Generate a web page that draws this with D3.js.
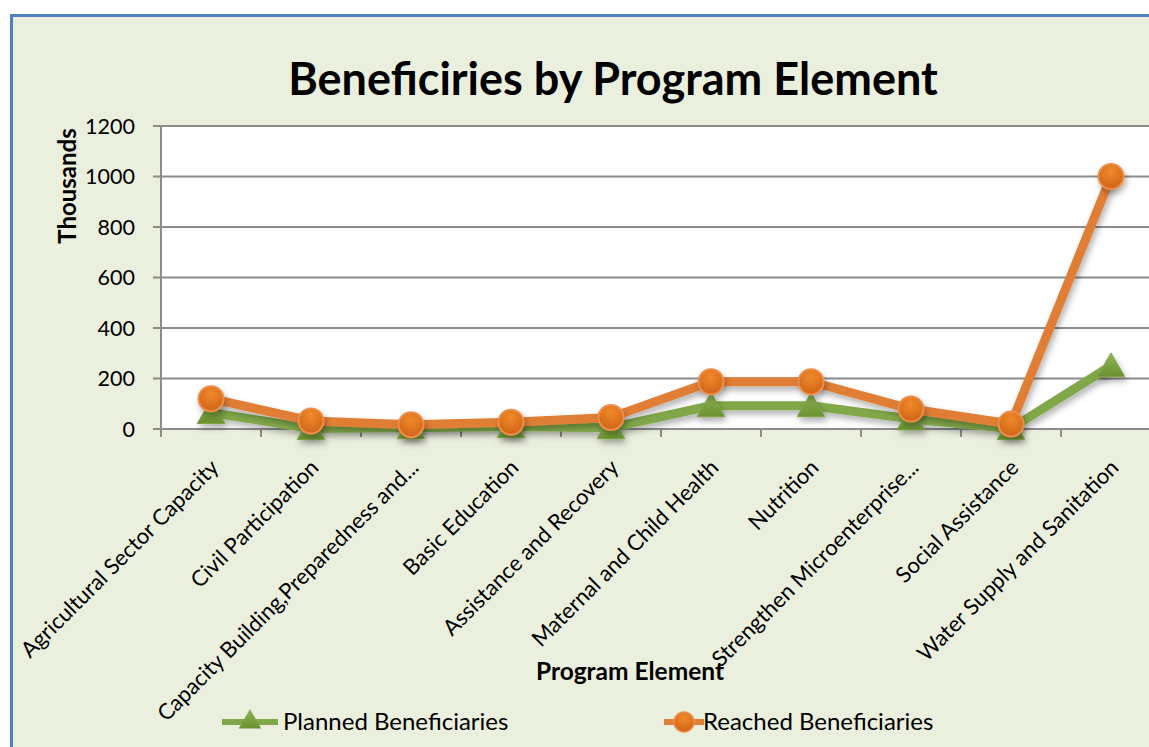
<!DOCTYPE html>
<html>
<head>
  <meta charset="utf-8">
  <title>Beneficiries by Program Element</title>
  <style>
  body { margin: 0; background: #ffffff; }
  svg { display: block; font-family: Lato, "Open Sans", sans-serif; }
  </style>
</head>
<body>
  <svg width="1149" height="747"></svg>
  <script src="https://d3js.org/d3.v7.min.js"></script>
  <script>
  // data (thousands)
  var categories = [
    "Agricultural Sector Capacity",
    "Civil Participation",
    "Capacity Building,Preparedness and...",
    "Basic Education",
    "Assistance and Recovery",
    "Maternal and Child Health",
    "Nutrition",
    "Strengthen Microenterprise...",
    "Social Assistance",
    "Water Supply and Sanitation"
  ];
  var planned = [65, 2, 5, 10, 5, 92, 92, 40, 2, 250];
  var reached = [120, 32, 17, 27, 46, 187, 187, 79, 20, 1000];
  var yTicks = [0, 200, 400, 600, 800, 1000, 1200];
  var seriesNames = ["Planned Beneficiaries", "Reached Beneficiaries"];

  var svg = d3.select("svg");
  var pLeft = 161, pRight = 1161, pTop = 126, pBottom = 429;

  var x = d3.scaleBand().domain(categories).range([pLeft, pRight]).padding(0);
  var y = d3.scaleLinear().domain([0, 1200]).range([pBottom, pTop]);
  var cx = function(d, i) { return x(categories[i]) + x.bandwidth() / 2; };

  // defs: gradients + shadow
  var defs = svg.append("defs");
  var og = defs.append("radialGradient").attr("id", "orangeGrad")
    .attr("cx", "50%").attr("cy", "30%").attr("r", "70%");
  og.append("stop").attr("offset", "0%").attr("stop-color", "#f08a2a");
  og.append("stop").attr("offset", "100%").attr("stop-color", "#cf6418");
  var gg = defs.append("linearGradient").attr("id", "greenGrad")
    .attr("x1", 0).attr("y1", 0).attr("x2", 0).attr("y2", 1);
  gg.append("stop").attr("offset", "0%").attr("stop-color", "#8fb452");
  gg.append("stop").attr("offset", "100%").attr("stop-color", "#6a9132");
  var sh = defs.append("filter").attr("id", "shadow")
    .attr("x", "-50%").attr("y", "-50%").attr("width", "200%").attr("height", "200%");
  sh.append("feDropShadow").attr("dx", 2).attr("dy", 4).attr("stdDeviation", 3)
    .attr("flood-color", "#000").attr("flood-opacity", 0.3);

  // chart area with frame
  svg.append("rect")
    .attr("x", 11.5).attr("y", 15.5).attr("width", 1160).attr("height", 760)
    .attr("fill", "#eaefde").attr("stroke", "#4f81bd").attr("stroke-width", 3);

  // plot area
  svg.append("rect")
    .attr("x", pLeft).attr("y", pTop).attr("width", pRight - pLeft).attr("height", pBottom - pTop)
    .attr("fill", "#ffffff");

  // gridlines
  svg.append("g").selectAll("line").data(yTicks).enter().append("line")
    .attr("x1", pLeft - 8).attr("x2", pRight)
    .attr("y1", function(d) { return y(d); }).attr("y2", function(d) { return y(d); })
    .attr("stroke", "#8c8c8c").attr("stroke-width", 2);

  // y axis line
  svg.append("line").attr("x1", pLeft).attr("x2", pLeft).attr("y1", pTop).attr("y2", pBottom)
    .attr("stroke", "#8c8c8c").attr("stroke-width", 2);

  // y tick labels
  svg.append("g").selectAll("text").data(yTicks).enter().append("text")
    .attr("x", 135).attr("y", function(d) { return y(d); })
    .attr("dy", "0.36em").attr("text-anchor", "end")
    .attr("font-size", 21.5).attr("fill", "#000")
    .text(function(d) { return d; });

  // x tick marks
  var bounds = categories.map(function(c) { return x(c); }).concat([pRight]);
  svg.append("g").selectAll("line").data(bounds).enter().append("line")
    .attr("x1", function(d) { return d; }).attr("x2", function(d) { return d; })
    .attr("y1", pBottom).attr("y2", pBottom + 8)
    .attr("stroke", "#8c8c8c").attr("stroke-width", 2);

  // x tick labels
  svg.append("g").selectAll("text").data(categories).enter().append("text")
    .attr("transform", function(d, i) {
      return "translate(" + (cx(d, i) + 9) + "," + (pBottom + 40) + ") rotate(-45)";
    })
    .attr("text-anchor", "end").attr("font-size", 22).attr("fill", "#000")
    .text(function(d) { return d; });

  // lines
  var line = d3.line()
    .x(function(d, i) { return cx(d, i); })
    .y(function(d) { return y(d); });

  function drawSeries(vals, color, width) {
    svg.append("path").datum(vals)
      .attr("d", line).attr("fill", "none")
      .attr("stroke", color).attr("stroke-width", width)
      .attr("stroke-linejoin", "round").attr("filter", "url(#shadow)");
  }
  drawSeries(planned, "#80a84a", 9);
  drawSeries(reached, "#e07e35", 9);

  // markers
  var tri = d3.symbol().type(d3.symbolTriangle).size(330);
  svg.append("g").selectAll("path").data(planned).enter().append("path")
    .attr("d", tri)
    .attr("transform", function(d, i) { return "translate(" + cx(d, i) + "," + (y(d) + 3) + ")"; })
    .attr("fill", "url(#greenGrad)").attr("stroke", "#7ea446").attr("stroke-width", 1)
    .attr("filter", "url(#shadow)");

  svg.append("g").selectAll("circle").data(reached).enter().append("circle")
    .attr("cx", function(d, i) { return cx(d, i); })
    .attr("cy", function(d) { return y(d); })
    .attr("r", 12.5)
    .attr("fill", "url(#orangeGrad)").attr("stroke", "#ee8d48").attr("stroke-width", 2)
    .attr("filter", "url(#shadow)");

  // title
  svg.append("text").attr("x", 613).attr("y", 95).attr("text-anchor", "middle")
    .attr("font-size", 45).attr("font-weight", "bold").attr("fill", "#000")
    .text("Beneficiries by Program Element");

  // axis titles
  svg.append("text").attr("transform", "translate(76,186) rotate(-90)")
    .attr("text-anchor", "middle").attr("font-size", 24).attr("font-weight", "bold")
    .text("Thousands");
  svg.append("text").attr("x", 630).attr("y", 680).attr("text-anchor", "middle")
    .attr("font-size", 24.5).attr("font-weight", "bold")
    .text("Program Element");

  // legend
  var legend = [
    { name: seriesNames[0], color: "#80a84a", x: 222, type: "tri" },
    { name: seriesNames[1], color: "#e07e35", x: 664, type: "circle" }
  ];
  var lg = svg.append("g").selectAll("g").data(legend).enter().append("g")
    .attr("transform", function(d) { return "translate(" + d.x + ",722)"; });
  lg.append("line").attr("x1", 0).attr("x2", function(d) { return d.type === "tri" ? 56 : 40; })
    .attr("y1", 0).attr("y2", 0)
    .attr("stroke", function(d) { return d.color; }).attr("stroke-width", 6);
  lg.filter(function(d) { return d.type === "tri"; }).append("path")
    .attr("d", d3.symbol().type(d3.symbolTriangle).size(220))
    .attr("transform", "translate(28,0)").attr("fill", "url(#greenGrad)");
  lg.filter(function(d) { return d.type === "circle"; }).append("circle")
    .attr("cx", 20).attr("cy", 0).attr("r", 10)
    .attr("fill", "url(#orangeGrad)").attr("stroke", "#ee8d48").attr("stroke-width", 1.5);
  lg.append("text")
    .attr("x", function(d) { return d.type === "tri" ? 61 : 39; })
    .attr("y", 0).attr("dy", "0.35em").attr("font-size", 24).attr("fill", "#000")
    .text(function(d) { return d.name; });
  </script>
</body>
</html>
